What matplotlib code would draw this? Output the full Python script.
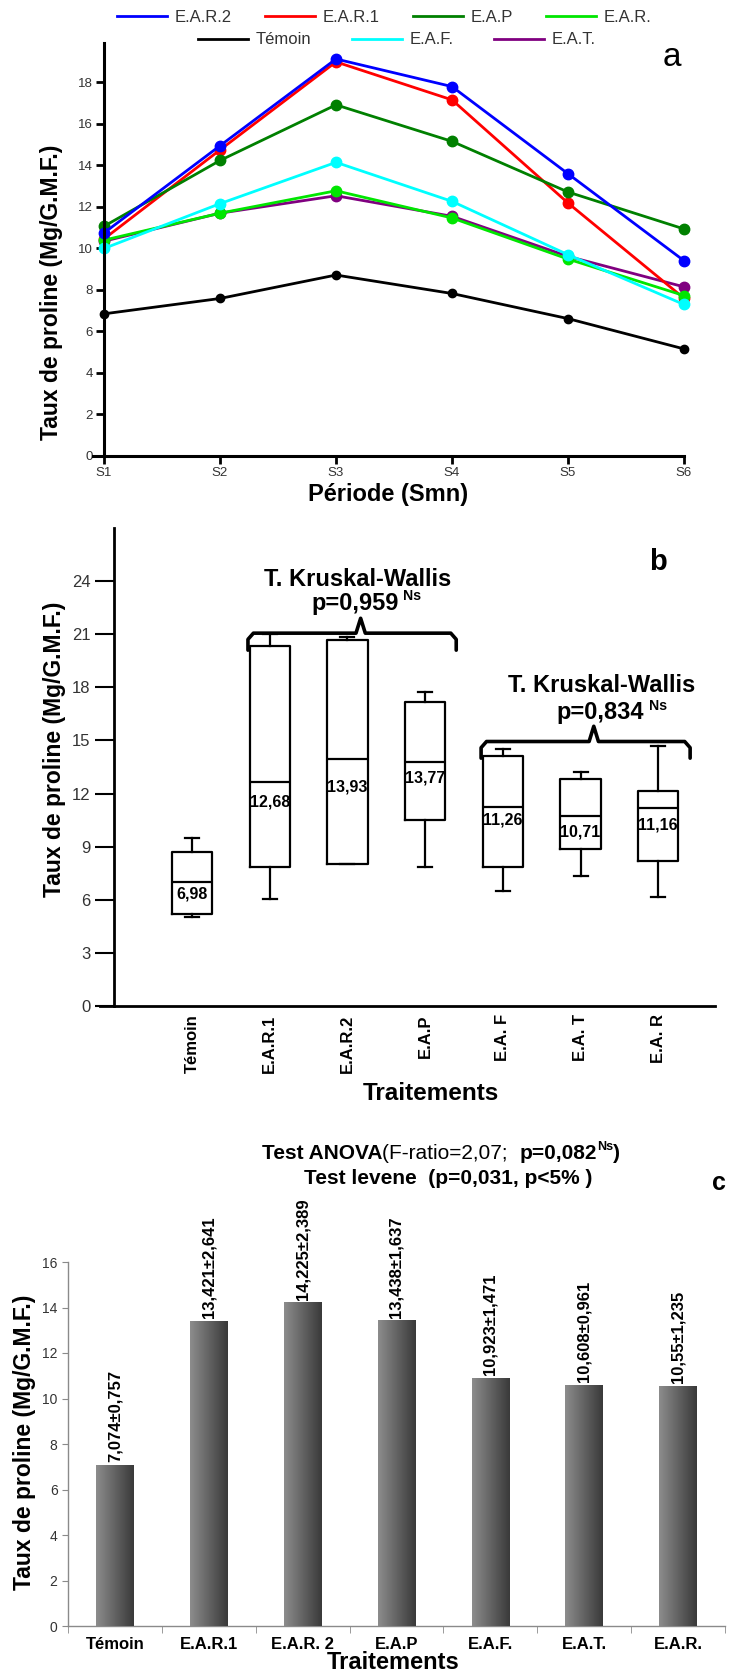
import matplotlib
matplotlib.use("Agg")
from matplotlib import pyplot as plt
from matplotlib import font_manager as fm
from matplotlib.lines import Line2D
from matplotlib.colors import LinearSegmentedColormap
import numpy as np

## Data ---------------------------------------------------------------------
periods = ["S1", "S2", "S3", "S4", "S5", "S6"]
ear2 = [10.75, 14.95, 19.13, 17.8, 13.6, 9.41]
ear1 = [10.46, 14.75, 18.99, 17.16, 12.19, 7.6]
eap = [11.07, 14.24, 16.92, 15.16, 12.72, 10.94]
ear = [10.4, 11.7, 12.78, 11.47, 9.49, 7.73]
temoin = [6.85, 7.59, 8.72, 7.83, 6.62, 5.16]
eaf = [10.0, 12.16, 14.15, 12.27, 9.7, 7.3]
eat = [10.35, 11.7, 12.54, 11.55, 9.62, 8.15]

box_labels = ["Témoin", "E.A.R.1", "E.A.R.2", "E.A.P", "E.A. F", "E.A. T", "E.A. R"]
box_med = [6.98, 12.68, 13.93, 13.77, 11.26, 10.71, 11.16]
box_q1 = [5.19, 7.83, 8.0, 10.51, 7.83, 8.85, 8.19]
box_q3 = [8.68, 20.32, 20.66, 17.15, 14.13, 12.81, 12.15]
box_lo = [5.04, 6.02, 8.0, 7.83, 6.51, 7.34, 6.17]
box_hi = [9.47, 21.0, 20.85, 17.72, 14.51, 13.19, 14.66]

bar_labels = ["Témoin", "E.A.R.1", "E.A.R. 2", "E.A.P", "E.A.F.", "E.A.T.", "E.A.R."]
bar_mean = [7.074, 13.421, 14.225, 13.438, 10.923, 10.608, 10.55]
bar_sd = [0.757, 2.641, 2.389, 1.637, 1.471, 0.961, 1.235]

## Fonts --------------------------------------------------------------------
names = {f.name for f in fm.fontManager.ttflist}
NARROW = "Liberation Sans Narrow" if "Liberation Sans Narrow" in names else "Liberation Sans"
plt.rcParams["font.family"] = "Liberation Sans"

W, H = 729, 1676
fig = plt.figure(figsize=(W / 100, H / 100), dpi=100)


def rect(l, t, r, b):
    return [l / W, 1 - b / H, (r - l) / W, (b - t) / H]


def fxy(px, py):
    return px / W, 1 - py / H


def rich(px, py, parts, size, supgap=1):
    # chain text pieces left to right; (text, weight, superscript?)
    txt, wt, _ = parts[0]
    t = fig.text(*fxy(px, py), txt, ha="left", va="center", fontsize=size,
                 fontweight=wt, family=NARROW)
    fig.canvas.draw()
    base = t.get_window_extent()
    x1 = base.x1
    for txt, wt, sup in parts[1:]:
        if sup:
            t = fig.text((x1 + supgap) / W, (base.y0 + 0.52 * base.height) / H,
                         txt, ha="left", va="bottom", fontsize=size * 0.6,
                         fontweight=wt, family=NARROW)
        else:
            t = fig.text(x1 / W, base.y0 / H, txt, ha="left", va="bottom",
                         fontsize=size, fontweight=wt, family=NARROW)
        fig.canvas.draw()
        x1 = t.get_window_extent().x1


## Panel a --------------------------------------------------------------
axa = fig.add_axes(rect(93, 43, 684, 456))
x = np.arange(len(periods))
series = [
    ("Témoin", temoin, "black", 6),
    ("E.A.T.", eat, "#800080", 7.5),
    ("E.A.R.1", ear1, "#ff0000", 7.5),
    ("E.A.R.", ear, "#00e600", 7.5),
    ("E.A.F.", eaf, "#00ffff", 7.5),
    ("E.A.P", eap, "#008000", 7.5),
    ("E.A.R.2", ear2, "#0000ff", 7.5),
]
colors = {}
for name, vals, c, ms in series:
    axa.plot(x, vals, color=c, lw=2, marker="o", ms=ms, clip_on=False)
    colors[name] = c

axa.set_xlim(-0.095, 5)
axa.set_ylim(0, 19.9)
axa.spines["left"].set_position(("data", 0))
for s in ["top", "right"]:
    axa.spines[s].set_visible(False)
for s in ["left", "bottom"]:
    axa.spines[s].set_linewidth(2.2)
axa.set_xticks(x, periods)
axa.set_yticks(np.arange(0, 19, 2))
axa.tick_params(direction="out", width=2, length=6, labelsize=9.5,
                labelcolor="#333333", pad=2)

row1 = ["E.A.R.2", "E.A.R.1", "E.A.P", "E.A.R."]
row2 = ["Témoin", "E.A.F.", "E.A.T."]
for row, cx, cy, cs in [(row1, 384, 17, 2.0), (row2, 397, 40, 2.45)]:
    fig.legend([Line2D([], [], color=colors[n], lw=2) for n in row], row,
               loc="center", bbox_to_anchor=fxy(cx, cy), ncol=len(row),
               frameon=False, fontsize=12, handlelength=3.0,
               handletextpad=0.45, columnspacing=cs, borderpad=0,
               borderaxespad=0, labelcolor="#333333")

fig.text(*fxy(672, 58), "a", fontsize=24, ha="center", va="center")
fig.text(*fxy(52, 292), "Taux de proline (Mg/G.M.F.)", rotation=90,
         ha="center", va="center", fontsize=16.5, fontweight="bold")
fig.text(*fxy(388, 495), "Période (Smn)", ha="center", va="center",
         fontsize=17, fontweight="bold", family=NARROW)

## Panel b --------------------------------------------------------------
axb = fig.add_axes(rect(100, 528, 715, 1006))
pos = np.arange(1, len(box_labels) + 1)
stats = [dict(med=m, q1=a, q3=b, whislo=lo, whishi=hi, fliers=[])
         for m, a, b, lo, hi in zip(box_med, box_q1, box_q3, box_lo, box_hi)]
lp = dict(color="black", lw=1.6)
axb.bxp(stats, positions=pos, widths=0.52, showfliers=False, boxprops=lp,
        medianprops=lp, whiskerprops=lp, capprops=lp, capwidths=0.18)
label_gap = [4, 13, 20, 8, 6, 8, 9]  # px below the median line
for p, m, g in zip(pos, box_med, label_gap):
    axb.text(p, m - g / 17.7, f"{m:.2f}".replace(".", ","), ha="center",
             va="top", fontsize=11.5, fontweight="bold", family=NARROW)

axb.set_xlim(-0.184, 7.73)
axb.set_ylim(0, 27)
axb.spines["left"].set_position(("data", 0))
for s in ["top", "right"]:
    axb.spines[s].set_visible(False)
for s in ["left", "bottom"]:
    axb.spines[s].set_linewidth(2)
axb.set_yticks(np.arange(0, 25, 3))
axb.tick_params(axis="y", direction="out", width=1.5, length=14,
                labelsize=12, labelcolor="#333333", pad=3)
axb.set_xticks(pos, box_labels, rotation=90, fontweight="bold",
               fontsize=12, family=NARROW)
axb.tick_params(axis="x", length=0, pad=6)
for lab in axb.get_yticklabels():
    lab.set_family(NARROW)


def brace(ax, x0, x1, xm, y, ylow, ytop):
    xs = [x0, x0, x0 + 0.07, xm - 0.06, xm, xm + 0.06, x1 - 0.07, x1, x1]
    ys = [ylow, y - 0.35, y, y, ytop, y, y, y - 0.35, ylow]
    ax.plot(xs, ys, color="black", lw=2.6, solid_joinstyle="round",
            solid_capstyle="round", clip_on=False)


brace(axb, 1.72, 4.40, 3.17, 21.06, 20.1, 21.9)
brace(axb, 4.72, 7.41, 6.17, 14.94, 14.0, 15.8)

kw_b = dict(fontsize=17, fontweight="bold", family=NARROW)
fig.text(*fxy(358, 579), "T. Kruskal-Wallis", ha="center", va="center", **kw_b)
fig.text(*fxy(602, 685), "T. Kruskal-Wallis", ha="center", va="center", **kw_b)
rich(311, 603, [("p=0,959", "bold", False), ("Ns", "bold", True)], 17, 5)
rich(556, 713, [("p=0,834", "bold", False), ("Ns", "bold", True)], 17, 5)

fig.text(*fxy(658, 562), "b", fontsize=21, fontweight="bold", ha="center",
         va="center")
fig.text(*fxy(54, 749), "Taux de proline (Mg/G.M.F.)", rotation=90,
         ha="center", va="center", fontsize=16.5, fontweight="bold")
fig.text(*fxy(431, 1093), "Traitements", ha="center", va="center",
         fontsize=17.5, fontweight="bold", family=NARROW)

## Panel c --------------------------------------------------------------
axc = fig.add_axes(rect(68, 1262, 725, 1626))
xc = np.arange(len(bar_labels))
bars = axc.bar(xc, bar_mean, width=0.4, color="#5c5c5c", zorder=2)
cmap = LinearSegmentedColormap.from_list("g", ["#8c8c8c", "#3a3a3a"])
grad = np.linspace(0, 1, 64).reshape(1, -1)
for b in bars:
    im = axc.imshow(grad, extent=[b.get_x(), b.get_x() + b.get_width(), 0,
                                  b.get_height()],
                    aspect="auto", cmap=cmap, zorder=3)
    im.set_clip_path(b)
for i, (m, s) in enumerate(zip(bar_mean, bar_sd)):
    lab = f"{m}±{s}".replace(".", ",")
    axc.text(i, m + 0.12, lab, rotation=90, ha="center", va="bottom",
             fontsize=12, fontweight="bold", family=NARROW)

axc.set_xlim(-0.5, 6.5)
axc.set_ylim(0, 16)
for s in ["top", "right"]:
    axc.spines[s].set_visible(False)
for s in ["left", "bottom"]:
    axc.spines[s].set_color("#8a8a8a")
    axc.spines[s].set_linewidth(1)
axc.set_yticks(np.arange(0, 17, 2))
axc.tick_params(axis="y", direction="out", length=4, color="#8a8a8a",
                labelsize=10, labelcolor="#333333")
axc.set_xticks(xc, bar_labels, fontweight="bold", fontsize=12, family=NARROW)
axc.set_xticks(np.arange(-0.5, 7, 1), minor=True)
axc.tick_params(axis="x", which="major", length=0, pad=8)
axc.tick_params(axis="x", which="minor", length=5, color="#8a8a8a")

rich(262, 1153, [("Test ANOVA", "bold", False),
                 ("(F-ratio=2,07;  ", "normal", False),
                 ("p=0,082", "bold", False), ("Ns", "bold", True),
                 (")", "bold", False)], 15, 0)
fig.text(*fxy(448, 1179), "Test levene  (p=0,031, p<5% )", ha="center",
         va="center", fontsize=15, fontweight="bold", family=NARROW)

fig.text(*fxy(719, 1183), "c", fontsize=18, fontweight="bold", ha="center",
         va="center")
fig.text(*fxy(25, 1442), "Taux de proline (Mg/G.M.F.)", rotation=90,
         ha="center", va="center", fontsize=16.5, fontweight="bold")
fig.text(*fxy(393, 1662), "Traitements", ha="center", va="center",
         fontsize=17, fontweight="bold", family=NARROW)

fig.savefig("out.png", dpi=100)
